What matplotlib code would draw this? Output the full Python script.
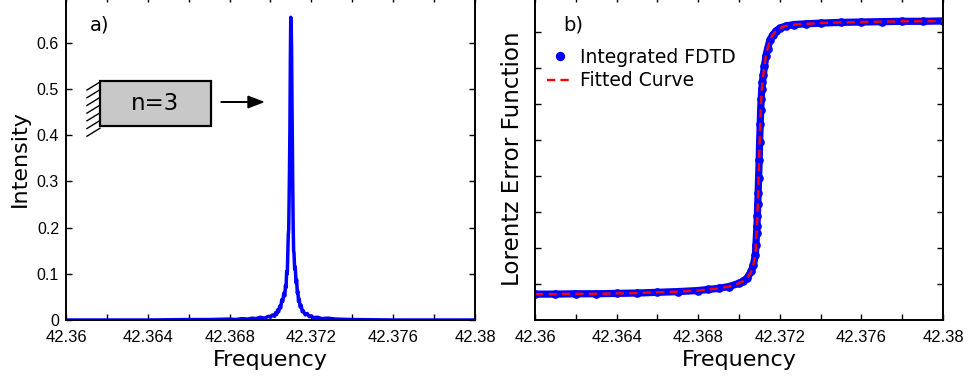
import matplotlib
matplotlib.use("Agg")
import matplotlib.pyplot as plt
from matplotlib.patches import Rectangle, FancyArrow
from matplotlib.lines import Line2D

# a) FDTD spectrum around the n=3 resonance
freq_a = [42.3600, 42.3620, 42.3640, 42.3660, 42.3670, 42.3680, 42.3683, 42.3686,
          42.3689, 42.3691, 42.3693, 42.3695, 42.3697, 42.3699, 42.3700, 42.3701,
          42.3702, 42.37025, 42.3703, 42.37035, 42.3704, 42.37045, 42.3705, 42.37055,
          42.3706, 42.37065, 42.3707, 42.37073, 42.37076, 42.37079, 42.37082, 42.37085,
          42.37087, 42.37089, 42.37091, 42.37093, 42.37095, 42.37097, 42.37099, 42.37101,
          42.37103, 42.37105, 42.37107, 42.37109, 42.37111, 42.37113, 42.37115, 42.37118,
          42.37121, 42.37125, 42.37128, 42.37131, 42.37134, 42.37137, 42.3714, 42.37145,
          42.3715, 42.37155, 42.3716, 42.3717, 42.3718, 42.3719, 42.3720, 42.3721,
          42.3723, 42.3725, 42.3728, 42.3732, 42.3740, 42.3760, 42.3780, 42.3800]
intensity = [0.000, 0.000, 0.000, 0.001, 0.001, 0.002, 0.001, 0.003,
             0.002, 0.004, 0.003, 0.006, 0.004, 0.008, 0.006, 0.011,
             0.008, 0.016, 0.012, 0.022, 0.018, 0.030, 0.026, 0.044,
             0.040, 0.058, 0.052, 0.075, 0.070, 0.105, 0.100, 0.150,
             0.185, 0.195, 0.260, 0.330, 0.420, 0.560, 0.655, 0.640,
             0.590, 0.480, 0.380, 0.280, 0.200, 0.150, 0.145, 0.110,
             0.115, 0.080, 0.087, 0.058, 0.062, 0.040, 0.046, 0.028,
             0.032, 0.018, 0.020, 0.011, 0.014, 0.007, 0.009, 0.005,
             0.006, 0.003, 0.004, 0.002, 0.001, 0.000, 0.000, 0.000]

# b) integrated spectrum and fitted Lorentz error function
freq_b = [42.3600, 42.3610, 42.3620, 42.3630, 42.3640, 42.3650, 42.3660, 42.3670,
          42.3680, 42.3685, 42.3690, 42.3695, 42.3700, 42.3702, 42.3704, 42.3706,
          42.3707, 42.3708, 42.37083, 42.37086, 42.37088, 42.37090, 42.37092, 42.37094,
          42.37096, 42.37099, 42.37101, 42.37104, 42.37106, 42.37109, 42.37112, 42.37115,
          42.37119, 42.37125, 42.37132, 42.37140, 42.37152, 42.37165, 42.37180, 42.37200,
          42.37230, 42.37270, 42.37330, 42.37400, 42.37500, 42.37600, 42.37700, 42.37800,
          42.37900, 42.38000]
fdtd = [0.72, 0.72, 0.73, 0.73, 0.74, 0.75, 0.77, 0.79,
        0.82, 0.85, 0.88, 0.93, 1.02, 1.08, 1.17, 1.35,
        1.52, 1.80, 2.08, 2.41, 2.61, 2.89, 3.24, 3.54,
        3.95, 4.46, 4.95, 5.44, 5.83, 6.16, 6.44, 6.62,
        6.81, 7.08, 7.35, 7.55, 7.80, 7.93, 8.03, 8.12,
        8.18, 8.22, 8.24, 8.26, 8.28, 8.29, 8.30, 8.31,
        8.31, 8.32]
fitted = [0.72, 0.72, 0.73, 0.73, 0.74, 0.75, 0.77, 0.79,
          0.82, 0.85, 0.88, 0.93, 1.02, 1.08, 1.17, 1.35,
          1.52, 1.80, 2.08, 2.41, 2.61, 2.89, 3.24, 3.54,
          3.95, 4.46, 4.95, 5.44, 5.83, 6.16, 6.44, 6.62,
          6.81, 7.08, 7.35, 7.55, 7.80, 7.93, 8.03, 8.12,
          8.18, 8.22, 8.24, 8.26, 8.28, 8.29, 8.30, 8.31,
          8.31, 8.32]

xticks = [42.36, 42.364, 42.368, 42.372, 42.376, 42.38]
xtick_labels = ["42.36", "42.364", "42.368", "42.372", "42.376", "42.38"]
xminor = [42.362, 42.366, 42.370, 42.374, 42.378]

W, H = 969, 381
fig = plt.figure(figsize=(W / 100, H / 100), dpi=100)

label_font = "DejaVu Sans"
tick_font = "Liberation Sans"


def style_axes(ax):
    for s in ax.spines.values():
        s.set_linewidth(1.4)
    ax.tick_params(which="both", direction="in", top=True, right=True,
                   width=1.0, length=4, pad=5)
    ax.tick_params(axis="x", which="both", pad=7)
    ax.set_xlim(42.36, 42.38)
    ax.set_xticks(xticks)
    ax.set_xticklabels(xtick_labels, fontfamily=tick_font, fontsize=12)
    ax.set_xticks(xminor, minor=True)
    ax.set_xlabel("Frequency", fontsize=16, fontfamily=label_font, labelpad=4)


bottom = 61 / H
height = 323.5 / H
ax1 = fig.add_axes([66 / W, bottom, 409 / W, height])
ax2 = fig.add_axes([535 / W, bottom, 408 / W, height])

# panel a
ax1.plot(freq_a, intensity, color="#0000ff", lw=2.5)
style_axes(ax1)
ax1.set_ylim(0, 0.7)
ax1.set_yticks([0, 0.1, 0.2, 0.3, 0.4, 0.5, 0.6])
ax1.set_yticklabels(["0", "0.1", "0.2", "0.3", "0.4", "0.5", "0.6"],
                    fontfamily=tick_font, fontsize=11.5)
ax1.set_ylabel("Intensity", fontsize=16, fontfamily=label_font, labelpad=5)
fig.text(90 / W, 1 - 25 / H, "a)", fontsize=14, fontfamily=label_font, va="center")

# inset sketch: clamped n=3 bar with arrow
fig.patches.append(Rectangle((100 / W, 1 - 126 / H), 111 / W, 45 / H,
                             transform=fig.transFigure, facecolor="#c8c8c8",
                             edgecolor="black", lw=1.6))
for k in range(7):
    y0 = 82 + k * 7.7
    fig.lines.append(Line2D([87 / W, 100 / W], [1 - (y0 + 8) / H, 1 - y0 / H],
                            transform=fig.transFigure, color="black", lw=1.0))
fig.text(155 / W, 1 - 103 / H, "n=3", fontsize=16.5, fontfamily=label_font,
         ha="center", va="center")
fig.patches.append(FancyArrow(221 / W, 1 - 102 / H, 42 / W, 0,
                              width=0.0015, head_width=0.03, head_length=15 / W,
                              length_includes_head=True, color="black",
                              transform=fig.transFigure))

# panel b
ax2.plot(freq_b, fdtd, color="#0000ff", lw=5.2, solid_capstyle="round")
ax2.plot(freq_b, fdtd, "o", color="#0000ff", ms=5.2, label="Integrated FDTD")
ax2.plot(freq_b, fitted, color="#ff0000", lw=1.7, dashes=(3.5, 2.2), label="Fitted Curve")
style_axes(ax2)
ax2.set_ylim(0, 9)
ax2.set_yticks(range(1, 9))
ax2.set_yticklabels([])
ax2.set_ylabel("Lorentz Error Function", fontsize=16.6, fontfamily=label_font, labelpad=3)
fig.text(563 / W, 1 - 25 / H, "b)", fontsize=14, fontfamily=label_font, va="center")
ax2.legend(loc="upper left", bbox_to_anchor=(0.01, 0.865), frameon=False,
           prop={"family": label_font, "size": 13.5}, handlelength=1.45,
           handletextpad=0.35, borderaxespad=0.0, labelspacing=0.25, markerscale=1.1)

fig.savefig("out.png", dpi=100)
